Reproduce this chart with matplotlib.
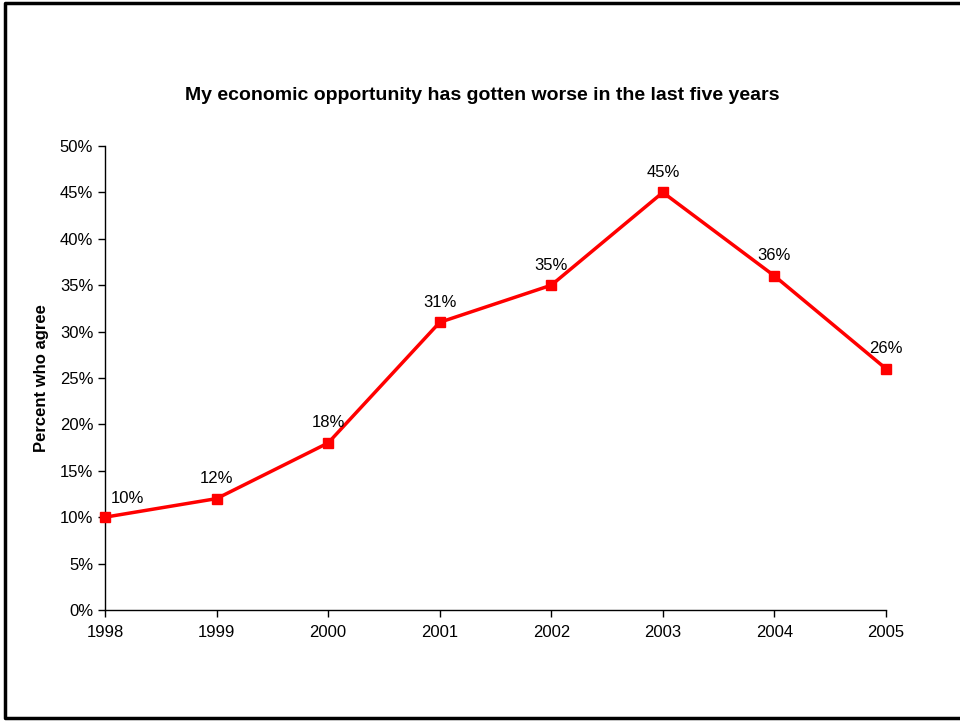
import matplotlib.pyplot as plt
from matplotlib.lines import Line2D

plt.rcParams["font.family"] = ["Liberation Sans", "DejaVu Sans"]

# Survey results by year
years = [1998, 1999, 2000, 2001, 2002, 2003, 2004, 2005]
agree_pct = [10, 12, 18, 31, 35, 45, 36, 26]
y_ticks = [0, 5, 10, 15, 20, 25, 30, 35, 40, 45, 50]

fig = plt.figure(figsize=(9.6, 7.21), dpi=100)
ax = fig.add_axes([0.1094, 0.154, 0.8135, 0.6435])

ax.plot(years, agree_pct, color="#ff0000", linewidth=2.5,
        marker="s", markersize=7, clip_on=False, zorder=3)

# value labels above each point
for yr, v in zip(years, agree_pct):
    if yr == years[0]:
        ax.annotate(f"{v}%", (yr, v), xytext=(4, 8), textcoords="offset points",
                    ha="left", va="bottom", fontsize=12)
    else:
        ax.annotate(f"{v}%", (yr, v), xytext=(0, 9), textcoords="offset points",
                    ha="center", va="bottom", fontsize=12)

ax.set_xlim(1998, 2005)
ax.set_ylim(0, 50)
ax.set_xticks(years)
ax.set_xticklabels([str(y) for y in years])
ax.set_yticks(y_ticks)
ax.set_yticklabels([f"{t}%" for t in y_ticks])
ax.tick_params(axis="both", labelsize=12, length=5, width=1, direction="out")
ax.tick_params(axis="x", pad=6)

for side in ["top", "right"]:
    ax.spines[side].set_visible(False)
for side in ["left", "bottom"]:
    ax.spines[side].set_linewidth(1)

ax.set_ylabel("Percent who agree", fontsize=12, fontweight="bold", labelpad=8)
fig.text(0.502, 0.867, "My economic opportunity has gotten worse in the last five years",
         ha="center", va="center", fontsize=14, fontweight="bold")

# outer frame (left, top and bottom edges)
fig.add_artist(Line2D([1.0, 0.0055, 0.0055, 1.0], [0.9965, 0.9965, 0.0035, 0.0035],
                      transform=fig.transFigure, color="black", linewidth=2.5))

fig.savefig("out.png", dpi=100)
